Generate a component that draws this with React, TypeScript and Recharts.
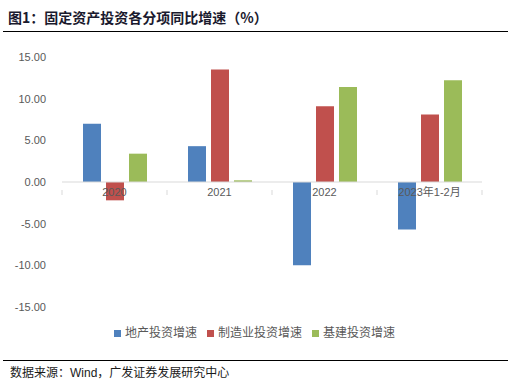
import { ComposedChart, Bar, Line, XAxis, YAxis, ReferenceLine, Legend } from "recharts"

const categories = ["2020", "2021", "2022", "2023年1-2月"]
const propertyGrowth = [7.0, 4.3, -10.0, -5.7]
const manufacturingGrowth = [-2.2, 13.5, 9.1, 8.1]
const infrastructureGrowth = [3.4, 0.2, 11.4, 12.2]
const yTicks = [-15, -10, -5, 0, 5, 10, 15]
const seriesOrder = ["地产投资增速", "制造业投资增速", "基建投资增速"]

const data = categories.map((name, i) => ({
  name,
  property: propertyGrowth[i],
  manufacturing: manufacturingGrowth[i],
  infrastructure: infrastructureGrowth[i],
  baseline: 0,
}))

const W = 511
const H = 387
const PLOT_TOP = 57
const PLOT_BOTTOM = 307
const X_AXIS_H = 20
const Y_MIN = -15
const Y_MAX = 15
const zeroOffset = ((0 - Y_MIN) / (Y_MAX - Y_MIN)) * (PLOT_BOTTOM - PLOT_TOP)

const labelFont = "'Liberation Sans', Arial, 'Noto Sans CJK SC', sans-serif"
const cjkFont = "'Noto Sans CJK SC', 'Liberation Sans', sans-serif"

// tick marks only; the category names are drawn on top of the bars below
const CategoryTick = (props: any) => {
  const { x, y, index } = props
  const band = (482 - 62) / categories.length
  const zy = y - zeroOffset
  return (
    <g>
      <line x1={x - band / 2} x2={x - band / 2} y1={zy} y2={zy + 5} stroke="#D9D9D9" />
      {index === categories.length - 1 && (
        <line x1={x + band / 2} x2={x + band / 2} y1={zy} y2={zy + 5} stroke="#D9D9D9" />
      )}
    </g>
  )
}

const CategoryLabel = (props: any) => {
  const { cx, cy, payload, index } = props
  return (
    <text
      key={`cat-${index}`}
      x={cx}
      y={cy + 14}
      textAnchor="middle"
      fill="#595959"
      fontSize={11}
      fontFamily={labelFont}
    >
      {payload.name}
    </text>
  )
}

export default function App() {
  return (
    <div style={{ position: "fixed", left: 0, top: 0, width: W, height: H, background: "#fff" }}>
      <div
        style={{
          position: "absolute",
          left: 8,
          top: 8,
          fontFamily: cjkFont,
          fontWeight: 700,
          fontSize: 14,
          color: "#1a1a2e",
          lineHeight: "18px",
        }}
      >
        图1：固定资产投资各分项同比增速（%）
      </div>
      <div style={{ position: "absolute", left: 3, top: 31, width: 505, height: 1, background: "#000" }} />

      <ComposedChart
        width={W}
        height={H}
        data={data}
        margin={{ top: PLOT_TOP, right: W - 482, bottom: H - PLOT_BOTTOM - X_AXIS_H, left: 0 }}
        barSize={18}
        barGap={5}
      >
        <YAxis
          domain={[Y_MIN, Y_MAX]}
          ticks={yTicks}
          width={62}
          axisLine={false}
          tickLine={false}
          tickFormatter={(v: number) => v.toFixed(2)}
          tick={{ fill: "#595959", fontSize: 11, fontFamily: labelFont }}
          tickMargin={10}
        />
        <XAxis
          dataKey="name"
          height={X_AXIS_H}
          axisLine={false}
          tickLine={false}
          interval={0}
          tick={<CategoryTick />}
        />
        <ReferenceLine y={0} stroke="#D9D9D9" />
        <Legend
          verticalAlign="bottom"
          iconType="square"
          iconSize={7}
          itemSorter={(item: any) => seriesOrder.indexOf(item.value)}
          wrapperStyle={{
            position: "absolute",
            top: 323,
            left: 4,
            width: W,
            height: 0,
            overflow: "visible",
            fontFamily: cjkFont,
            fontSize: 12,
            color: "#595959",
          }}
          formatter={(value: string) => <span style={{ color: "#595959" }}>{value}</span>}
        />
        <Bar dataKey="property" name="地产投资增速" fill="#4F81BD" isAnimationActive={false} />
        <Bar dataKey="manufacturing" name="制造业投资增速" fill="#C0504D" isAnimationActive={false} />
        <Bar dataKey="infrastructure" name="基建投资增速" fill="#9BBB59" isAnimationActive={false} />
        <Line
          dataKey="baseline"
          stroke="none"
          legendType="none"
          dot={<CategoryLabel />}
          activeDot={false}
          isAnimationActive={false}
        />
      </ComposedChart>

      <div style={{ position: "absolute", left: 3, top: 360, width: 505, height: 1, background: "#000" }} />
      <div
        style={{
          position: "absolute",
          left: 10,
          top: 364,
          fontFamily: cjkFont,
          fontSize: 12,
          color: "#1a1a1a",
          lineHeight: "16px",
        }}
      >
        数据来源：<span style={{ fontFamily: labelFont }}>Wind</span>，广发证券发展研究中心
      </div>
    </div>
  )
}
